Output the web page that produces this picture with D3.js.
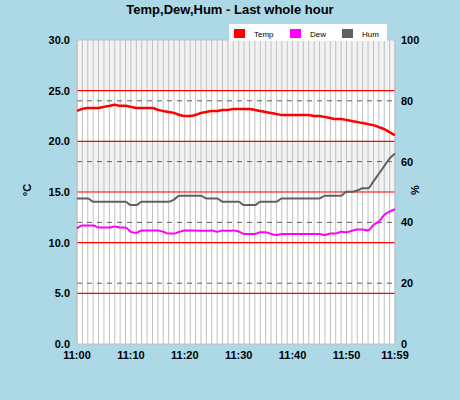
<!DOCTYPE html><html><head><meta charset="utf-8"><script src="https://d3js.org/d3.v7.min.js"></script>
<style>body{margin:0;background:#add8e6}text{font-family:"Liberation Sans",Arial,sans-serif}</style></head><body><svg id="c" width="460" height="400"></svg>
<script>
const minutes=d3.range(60);
const xTickLabels=["11:00","11:10","11:20","11:30","11:40","11:50","11:59"];
const xTickMinutes=[0,10,20,30,40,50,59];
const tempTicks=["0.0","5.0","10.0","15.0","20.0","25.0","30.0"];
const humTicks=["0","20","40","60","80","100"];
const temp=[23.0,23.2,23.3,23.3,23.3,23.4,23.5,23.6,23.5,23.5,23.4,23.3,23.3,23.3,23.3,23.1,23.0,22.9,22.8,22.6,22.5,22.5,22.6,22.8,22.9,23.0,23.0,23.1,23.1,23.2,23.2,23.2,23.2,23.1,23.0,22.9,22.8,22.7,22.6,22.6,22.6,22.6,22.6,22.6,22.5,22.5,22.4,22.3,22.2,22.2,22.1,22.0,21.9,21.8,21.7,21.6,21.4,21.2,20.9,20.6];
const dew=[11.4,11.7,11.7,11.7,11.5,11.5,11.5,11.6,11.5,11.5,11.07,10.97,11.2,11.2,11.2,11.2,11.07,10.9,10.9,11.07,11.2,11.2,11.2,11.17,11.17,11.2,11.07,11.2,11.17,11.2,11.1,10.86,10.86,10.86,11.03,11.03,10.86,10.76,10.86,10.86,10.86,10.86,10.86,10.86,10.86,10.86,10.76,10.9,10.9,11.07,11.03,11.17,11.3,11.3,11.2,11.75,12.08,12.74,13.07,13.3];
const hum=[47.9,47.9,47.9,46.8,46.8,46.8,46.8,46.8,46.8,46.8,45.7,45.7,46.8,46.8,46.8,46.8,46.8,46.8,47.5,48.8,48.8,48.8,48.8,48.8,47.9,47.9,47.9,46.8,46.8,46.8,46.8,45.7,45.7,45.7,46.8,46.8,46.8,46.8,47.9,47.9,47.9,47.9,47.9,47.9,47.9,47.9,48.8,48.8,48.8,48.8,50.1,50.1,50.5,51.2,51.2,53.5,56,58.5,61,62.7];
const svg=d3.select("#c");
const L=77,R=395,T=40,B=344;
const x=d3.scaleLinear().domain([0,59]).range([L,R]);
const y=d3.scaleLinear().domain([0,30]).range([B,T]);
const yh=d3.scaleLinear().domain([0,100]).range([B,T]);
[[25,30,"#f2f2f2"],[20,25,"#fff"],[15,20,"#f2f2f2"],[10,15,"#fff"],[5,10,"#fff"],[0,5,"#fff"]].forEach(b=>svg.append("rect").attr("x",L).attr("width",R-L).attr("y",y(b[1])).attr("height",y(b[0])-y(b[1])).attr("fill",b[2]));
svg.selectAll(".vg").data(minutes).join("line").attr("x1",d=>x(d)).attr("x2",d=>x(d)).attr("y1",T).attr("y2",B).attr("stroke","#c0c0c0").attr("stroke-width",1);
[20,40,60,80].forEach(h=>svg.append("line").attr("x1",L).attr("x2",R).attr("y1",yh(h)).attr("y2",yh(h)).attr("stroke","#606060").attr("stroke-dasharray","5,5"));
[5,10,15,20,25].forEach(t=>svg.append("line").attr("x1",L).attr("x2",R).attr("y1",y(t)).attr("y2",y(t)).attr("stroke","#ff0000").attr("stroke-width",1.2));
svg.append("rect").attr("x",L).attr("y",T).attr("width",R-L).attr("height",B-T).attr("fill","none").attr("stroke","#c0c0c0");
const line=(sc)=>d3.line().x((d,i)=>x(i)).y(d=>sc(d)).curve(d3.curveMonotoneX);
svg.append("path").attr("d",line(yh)(hum)).attr("fill","none").attr("stroke","#606060").attr("stroke-width",2);
svg.append("path").attr("d",line(y)(dew)).attr("fill","none").attr("stroke","#ff00ff").attr("stroke-width",2);
svg.append("path").attr("d",line(y)(temp)).attr("fill","none").attr("stroke","#ff0000").attr("stroke-width",2.5);
tempTicks.forEach((t,i)=>svg.append("text").attr("x",70).attr("y",y(i*5)+4).attr("text-anchor","end").attr("font-size",11).attr("font-weight","bold").text(t));
humTicks.forEach((t,i)=>svg.append("text").attr("x",401).attr("y",yh(i*20)+4).attr("font-size",11).attr("font-weight","bold").text(t));
xTickLabels.forEach((t,i)=>svg.append("text").attr("x",x(xTickMinutes[i])).attr("y",359).attr("text-anchor","middle").attr("font-size",11).attr("font-weight","bold").text(t));
svg.append("text").attr("transform","translate(31,190) rotate(-90)").attr("text-anchor","middle").attr("font-size",11).attr("font-weight","bold").text("°C");
svg.append("text").attr("transform","translate(419,190) rotate(-90)").attr("text-anchor","middle").attr("font-size",11).attr("font-weight","bold").text("%");
svg.append("text").attr("x",230).attr("y",14).attr("text-anchor","middle").attr("font-size",13).attr("font-weight","bold").text("Temp,Dew,Hum - Last whole hour");
svg.append("rect").attr("x",229).attr("y",24).attr("width",158).attr("height",17).attr("fill","#fff");
[["Temp","#ff0000",234],["Dew","#ff00ff",290],["Hum","#606060",342]].forEach(l=>{svg.append("rect").attr("x",l[2]).attr("y",29).attr("width",11).attr("height",9).attr("fill",l[1]);svg.append("text").attr("x",l[2]+20).attr("y",37).attr("font-size",8).text(l[0]);});
</script></body></html>
